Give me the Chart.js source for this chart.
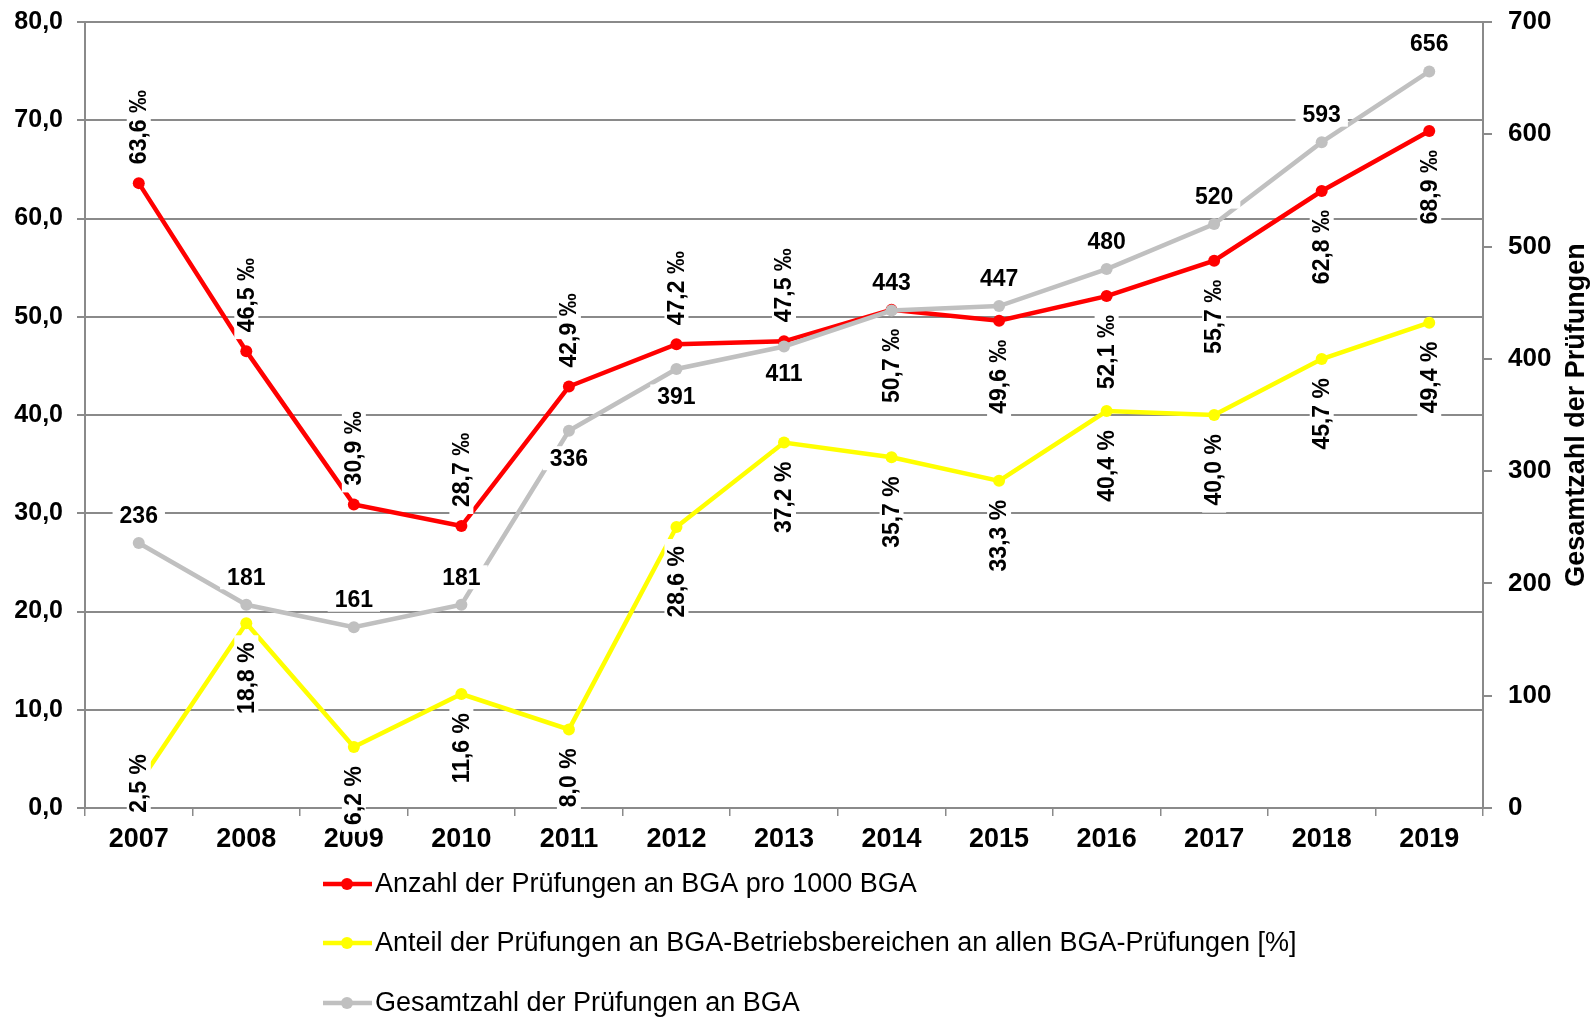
<!DOCTYPE html>
<html>
<head>
<meta charset="utf-8">
<script src="https://cdn.jsdelivr.net/npm/chart.js@4/dist/chart.umd.min.js"></script>
<style>
  body { margin: 0; background: #fff; }
  canvas { display: block; }
</style>
</head>
<body>
<canvas id="grafik" width="1596" height="1019"></canvas>
<script>
// Daten
const jahre = ['2007','2008','2009','2010','2011','2012','2013','2014','2015','2016','2017','2018','2019']
const proTausend = [63.6, 46.5, 30.9, 28.7, 42.9, 47.2, 47.5, 50.7, 49.6, 52.1, 55.7, 62.8, 68.9]
const anteilProzent = [2.5, 18.8, 6.2, 11.6, 8.0, 28.6, 37.2, 35.7, 33.3, 40.4, 40.0, 45.7, 49.4]
const gesamtzahl = [236, 181, 161, 181, 336, 391, 411, 443, 447, 480, 520, 593, 656]
const linksTicks = [0, 10, 20, 30, 40, 50, 60, 70, 80]
const rechtsTicks = [0, 100, 200, 300, 400, 500, 600, 700]

// wo die Beschriftung sitzt: o = oben, u = unten, m = mitte
const seiteRot = ['o','o','o','o','o','o','o','u','u','u','u','u','u']
const seiteGelb = ['m','u','u','u','u','u','u','u','u','u','u','u','u']
const seiteGrau = ['o','o','o','o','u','u','u','o','o','o','o','o','o']

const schrift = '"Liberation Sans", Arial, sans-serif'
const komma = (v, n) => v.toFixed(n).replace('.', ',')

const reihen = [
  {label: 'Anzahl der Prüfungen an BGA pro 1000 BGA', data: proTausend, farbe: '#ff0000', achse: 'y',
   text: v => komma(v, 1) + ' \u2030', seite: seiteRot, dreh: true, order: 1},
  {label: 'Anteil der Prüfungen an BGA-Betriebsbereichen an allen BGA-Prüfungen [%]', data: anteilProzent, farbe: '#ffff00', achse: 'y',
   text: v => komma(v, 1) + ' %', seite: seiteGelb, dreh: true, order: 2},
  {label: 'Gesamtzahl der Prüfungen an BGA', data: gesamtzahl, farbe: '#c0c0c0', achse: 'y2',
   text: v => String(v), seite: seiteGrau, dreh: false, order: 0}
]

// Werte an den Punkten, weiss hinterlegt
const wertePlugin = {
  id: 'werte',
  afterDatasetsDraw(chart) {
    const ctx = chart.ctx
    ctx.save()
    ctx.font = 'bold 23px ' + schrift
    ctx.textAlign = 'center'
    ctx.textBaseline = 'middle'
    reihen.forEach((r, i) => {
      const meta = chart.getDatasetMeta(i)
      meta.data.forEach((pt, j) => {
        const txt = r.text(r.data[j])
        const w = ctx.measureText(txt).width
        const abstand = 19
        if (r.dreh) {
          let cy = pt.y
          if (r.seite[j] === 'o') cy = pt.y - abstand - w / 2
          if (r.seite[j] === 'u') cy = pt.y + abstand + w / 2
          ctx.save()
          ctx.translate(pt.x, cy)
          ctx.rotate(-Math.PI / 2)
          ctx.fillStyle = '#fff'
          ctx.fillRect(-w / 2 - 7, -12, w + 14, 24)
          ctx.fillStyle = '#000'
          ctx.fillText(txt, 0, 1)
          ctx.restore()
        } else {
          const h = 17
          let cy = r.seite[j] === 'o' ? pt.y - abstand - h / 2 : pt.y + abstand + h / 2
          ctx.fillStyle = '#fff'
          ctx.fillRect(pt.x - w / 2 - 7, cy - 12, w + 14, 24)
          ctx.fillStyle = '#000'
          ctx.fillText(txt, pt.x, cy + 1)
        }
      })
    })
    ctx.restore()
  },
  afterDraw(chart) {
    const ctx = chart.ctx
    const a = chart.chartArea
    ctx.save()
    // Titel rechte Achse
    ctx.translate(1577, (a.top + a.bottom) / 2)
    ctx.rotate(-Math.PI / 2)
    ctx.font = 'bold 27px ' + schrift
    ctx.fillStyle = '#000'
    ctx.textAlign = 'center'
    ctx.textBaseline = 'middle'
    ctx.fillText('Gesamtzahl der Prüfungen', 0, 0)
    ctx.restore()

    // Legende untereinander
    ctx.save()
    ctx.font = '27px ' + schrift
    ctx.textBaseline = 'middle'
    const zeilen = [884, 943, 1003]
    reihen.forEach((r, i) => {
      const y = zeilen[i]
      ctx.strokeStyle = r.farbe
      ctx.lineWidth = 4.5
      ctx.beginPath()
      ctx.moveTo(323, y)
      ctx.lineTo(372, y)
      ctx.stroke()
      ctx.fillStyle = r.farbe
      ctx.beginPath()
      ctx.arc(347, y, 6, 0, Math.PI * 2)
      ctx.fill()
      ctx.fillStyle = '#000'
      ctx.fillText(r.label, 375, y + 1)
    })
    ctx.restore()
  }
}

const gitter = '#8a8a8a'

new Chart(document.getElementById('grafik'), {
  type: 'line',
  data: {
    labels: jahre,
    datasets: reihen.map(r => ({
      label: r.label,
      data: r.data,
      yAxisID: r.achse,
      order: r.order,
      borderColor: r.farbe,
      backgroundColor: r.farbe,
      borderWidth: 4.5,
      pointRadius: 6,
      pointBackgroundColor: r.farbe,
      pointBorderColor: r.farbe,
      pointBorderWidth: 0,
      tension: 0,
      clip: false
    }))
  },
  options: {
    responsive: false,
    animation: false,
    layout: {padding: {top: 22, left: 0, right: 0, bottom: 161}},
    plugins: {legend: {display: false}, tooltip: {enabled: false}},
    scales: {
      x: {
        offset: true,
        afterFit: s => { s.height = 50 },
        grid: {offset: true, drawOnChartArea: false, color: gitter, lineWidth: 1.5, tickLength: 8},
        border: {color: gitter, width: 2},
        ticks: {color: '#000', padding: 7, font: {family: schrift, size: 27, weight: 'bold'}}
      },
      y: {
        position: 'left',
        min: 0, max: 80,
        afterFit: s => { s.width = 85 },
        afterBuildTicks: s => { s.ticks = linksTicks.map(v => ({value: v})) },
        grid: {color: gitter, lineWidth: 2, tickLength: 8},
        border: {color: gitter, width: 2},
        ticks: {color: '#000', padding: 14, font: {family: schrift, size: 25, weight: 'bold', lineHeight: 0.4},
                callback: v => komma(v, 1)}
      },
      y2: {
        position: 'right',
        min: 0, max: 700,
        afterFit: s => { s.width = 113 },
        afterBuildTicks: s => { s.ticks = rechtsTicks.map(v => ({value: v})) },
        grid: {drawOnChartArea: false, color: gitter, lineWidth: 2, tickLength: 9},
        border: {color: gitter, width: 2},
        ticks: {color: '#000', padding: 16, font: {family: schrift, size: 26, weight: 'bold', lineHeight: 0.4},
                callback: v => String(v)}
      }
    }
  },
  plugins: [wertePlugin]
})
</script>
</body>
</html>
